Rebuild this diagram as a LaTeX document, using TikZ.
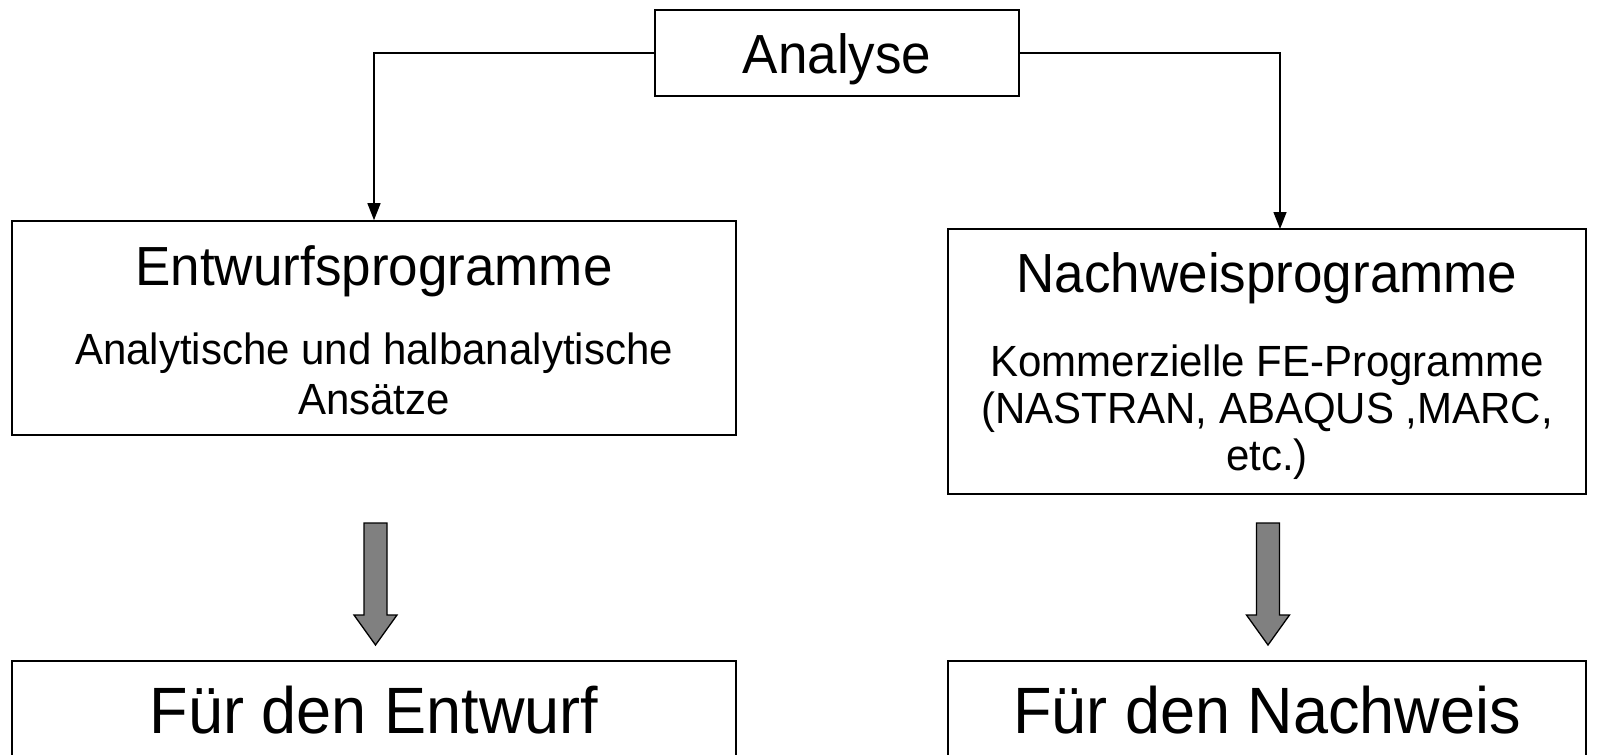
\documentclass[tikz,border=0pt]{standalone}
\usepackage{fontspec}
\setmainfont{Liberation Sans}
\usetikzlibrary{arrows.meta,calc}
\tikzset{
  box/.style={draw=black,line width=1.6pt,rectangle,inner sep=0pt},
  conn/.style={draw=black,line width=1.4pt,-{Triangle[length=17pt,width=13pt]}},
  garrow/.style={draw=black,line width=1.3pt,fill=black!50},
  ttl/.style={anchor=base,inner sep=0pt,font=\fontsize{53}{60}\selectfont},
  sub/.style={anchor=base,inner sep=0pt,font=\fontsize{42}{48}\selectfont},
  big/.style={anchor=base,inner sep=0pt,font=\fontsize{63}{72}\selectfont},
}
\newcommand\grayarrow[1]{%
  \filldraw[garrow] ($(#1)+(-11.5,0)$) -- ($(#1)+(11.5,0)$) -- ($(#1)+(11.5,92)$)
   -- ($(#1)+(21.5,92)$) -- ($(#1)+(0,122)$) -- ($(#1)+(-21.5,92)$)
   -- ($(#1)+(-11.5,92)$) -- cycle;}
\newcommand\tall[1]{\scalebox{1}[1.04]{#1}}
\begin{document}
\begin{tikzpicture}[x=1pt,y=-1pt]
\useasboundingbox (0,0) rectangle (1599,755);
\clip (0,0) rectangle (1599,755);
% boxes
\node[box,minimum width=364pt,minimum height=86pt] (ana) at (837,53) {};
\node[box,minimum width=724pt,minimum height=214pt] (ent) at (374,328) {};
\node[box,minimum width=638pt,minimum height=265pt] (nach) at (1267,361.5) {};
\node[box,minimum width=724pt,minimum height=160pt] (fent) at (374,741) {};
\node[box,minimum width=638pt,minimum height=160pt] (fnach) at (1267,741) {};
% texts
\node[ttl] (tana) at (837,73) {\tall{Analyse}};
\node[ttl] (tent) at (374,285) {\tall{Entwurfsprogramme}};
\node[sub] (tent1) at (374,364) {\tall{Analytische und halbanalytische}};
\node[sub] (tent2) at (374,414) {\tall{Ansätze}};
\node[ttl] (tnach) at (1267,292) {\tall{Nachweisprogramme}};
\node[sub] (tnach1) at (1267,376) {\tall{Kommerzielle FE-Programme}};
\node[sub] (tnach2) at (1267,423) {\tall{(NASTRAN, ABAQUS ,MARC,}};
\node[sub] (tnach3) at (1267,470) {\tall{etc.)}};
\node[big] (tfent) at (374,733) {\tall{Für den Entwurf}};
\node[big] (tfnach) at (1267,733) {\tall{Für den Nachweis}};
% connectors
\coordinate (nt) at (1280,229);
\draw[conn] (ana.west) -| (ent.north);
\draw[conn] (ana.east) -| (nt);
% gray arrows
\coordinate (ga1) at (375.5,523);
\coordinate (ga2) at (1268,523);
\grayarrow{ga1}
\grayarrow{ga2}
\end{tikzpicture}
\end{document}
